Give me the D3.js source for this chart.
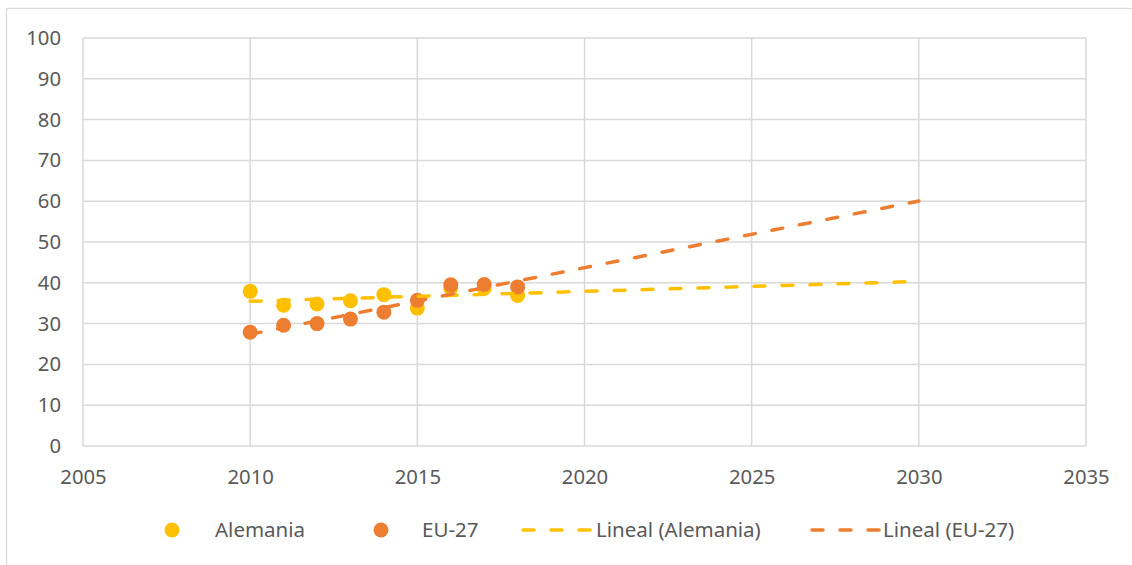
<!DOCTYPE html>
<html><head><meta charset="utf-8">
<script src="https://cdn.jsdelivr.net/npm/d3@7"></script>
<style>body{margin:0;background:#fff;} svg{display:block;font-family:"Noto Sans",sans-serif;}</style>
</head><body>
<svg id="c" width="1132" height="565"></svg>
<script>
const years = [2010,2011,2012,2013,2014,2015,2016,2017,2018];
const alemania = [37.9,34.5,34.8,35.6,37.1,33.8,38.7,38.7,36.9];
const eu27 = [27.9,29.6,30.0,31.1,32.8,35.7,39.5,39.6,39.0];
const xTicks = [2005,2010,2015,2020,2025,2030,2035];
const yTicks = [0,10,20,30,40,50,60,70,80,90,100];
const trendEnd = 2030;
const seriesNames = ["Alemania","EU-27","Lineal (Alemania)","Lineal (EU-27)"];
const colors = {al:"#FFC000", eu:"#ED7D31"};

const svg = d3.select("#c");
const x = d3.scaleLinear().domain([2005,2035]).range([83,1086]);
const y = d3.scaleLinear().domain([0,100]).range([446,38]);
const grid = "#d9d9d9", txt = "#595959";

svg.append("rect").attr("x",6.5).attr("y",8.5).attr("width",1200).attr("height",700)
  .attr("fill","none").attr("stroke",grid).attr("stroke-width",1.3);

// grid
svg.append("g").selectAll("line").data(yTicks).join("line")
  .attr("x1",x(2005)).attr("x2",x(2035)).attr("y1",d=>y(d)).attr("y2",d=>y(d))
  .attr("stroke",grid).attr("stroke-width",1.5);
svg.append("g").selectAll("line").data(xTicks).join("line")
  .attr("y1",y(0)).attr("y2",y(100)).attr("x1",d=>x(d)).attr("x2",d=>x(d))
  .attr("stroke",grid).attr("stroke-width",1.5);

// axes labels
const yAxis = d3.axisLeft(y).tickValues(yTicks).tickSize(0).tickPadding(22);
const gy = svg.append("g").attr("transform",`translate(${x(2005)},0)`).call(yAxis);
const xAxis = d3.axisBottom(x).tickValues(xTicks).tickFormat(d3.format("d")).tickSize(0).tickPadding(24);
const gx = svg.append("g").attr("transform",`translate(0,${y(0)})`).call(xAxis);
[gy,gx].forEach(g=>{g.select(".domain").remove(); g.selectAll("text").attr("fill",txt).attr("font-size",20.3).attr("font-family","Noto Sans");});

// regression
function fit(xs, ys){
  const mx=d3.mean(xs), my=d3.mean(ys);
  let sxy=0,sxx=0; xs.forEach((v,i)=>{sxy+=(v-mx)*(ys[i]-my); sxx+=(v-mx)**2;});
  const b=sxy/sxx; return t=>my+b*(t-mx);
}
const fa = fit(years, alemania), fe = fit(years, eu27);

const pts = (vals)=>years.map((yr,i)=>({yr, v:vals[i]}));
svg.append("g").selectAll("circle").data(pts(alemania)).join("circle")
  .attr("cx",d=>x(d.yr)).attr("cy",d=>y(d.v)).attr("r",7.5).attr("fill",colors.al);
svg.append("g").selectAll("circle").data(pts(eu27)).join("circle")
  .attr("cx",d=>x(d.yr)).attr("cy",d=>y(d.v)).attr("r",7.5).attr("fill",colors.eu);

const dash = "11,17";
[[fa,colors.al],[fe,colors.eu]].forEach(([f,c])=>{
  svg.append("line").attr("x1",x(years[0])).attr("y1",y(f(years[0])))
    .attr("x2",x(trendEnd)).attr("y2",y(f(trendEnd)))
    .attr("stroke",c).attr("stroke-width",3.5).attr("stroke-dasharray",dash)
    .attr("stroke-linecap","round");
});

// legend
const ly = 530;
const leg = svg.append("g").attr("font-size",20.5).attr("fill",txt);
leg.append("circle").attr("cx",172).attr("cy",ly).attr("r",7.5).attr("fill",colors.al);
leg.append("text").attr("x",215).attr("y",ly).attr("dy","0.35em").text(seriesNames[0]);
leg.append("circle").attr("cx",381).attr("cy",ly).attr("r",7.5).attr("fill",colors.eu);
leg.append("text").attr("x",422).attr("y",ly).attr("dy","0.35em").text(seriesNames[1]);
leg.append("line").attr("x1",523).attr("x2",592).attr("y1",ly).attr("y2",ly)
  .attr("stroke",colors.al).attr("stroke-width",3.5).attr("stroke-dasharray","11,17").attr("stroke-linecap","round");
leg.append("text").attr("x",596).attr("y",ly).attr("dy","0.35em").text(seriesNames[2]);
leg.append("line").attr("x1",812).attr("x2",880).attr("y1",ly).attr("y2",ly)
  .attr("stroke",colors.eu).attr("stroke-width",3.5).attr("stroke-dasharray","11,17").attr("stroke-linecap","round");
leg.append("text").attr("x",883).attr("y",ly).attr("dy","0.35em").text(seriesNames[3]);
</script>
</body></html>
